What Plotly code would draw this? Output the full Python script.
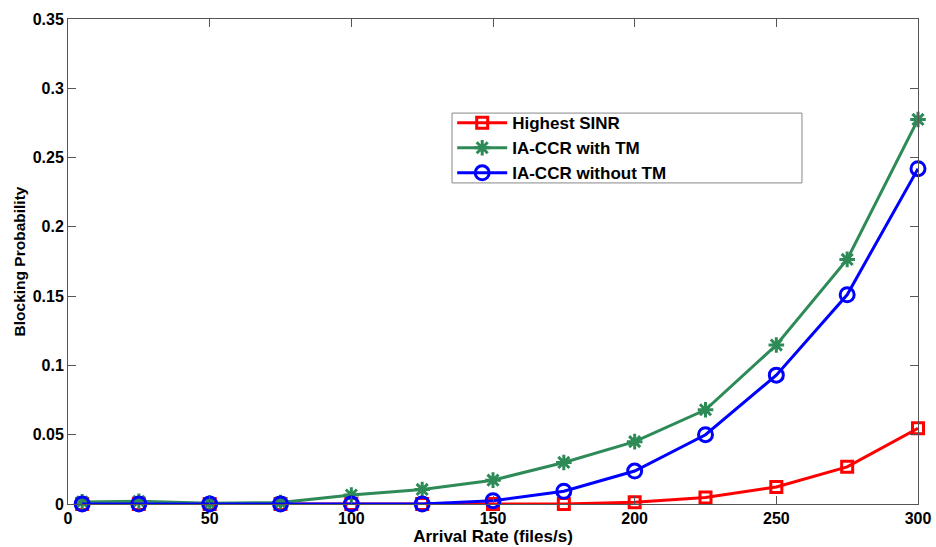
import plotly.graph_objects as go

arrival_rate = [5, 25, 50, 75, 100, 125, 150, 175, 200, 225, 250, 275, 300]
highest_sinr = [0, 0, 0, 0, 0, 0, 0, 0, 0.0013, 0.0047, 0.0123, 0.0268, 0.0546]
ia_ccr_with_tm = [0.0015, 0.002, 0.0006, 0.001, 0.0065, 0.0105, 0.0172, 0.0300, 0.0450, 0.0680, 0.1147, 0.1765, 0.2775]
ia_ccr_without_tm = [0, 0, 0, 0, 0, 0, 0.0024, 0.0092, 0.0238, 0.0500, 0.0930, 0.1510, 0.2420]

x_ticks = [0, 50, 100, 150, 200, 250, 300]
y_ticks = [0, 0.05, 0.1, 0.15, 0.2, 0.25, 0.3, 0.35]
y_tick_labels = ["0", "0.05", "0.1", "0.15", "0.2", "0.25", "0.3", "0.35"]

FONT = "Liberation Sans, Arial, sans-serif"

fig = go.Figure()
fig.add_trace(go.Scatter(
    x=arrival_rate, y=highest_sinr, name="Highest SINR", mode="lines+markers",
    line=dict(color="#FF0000", width=3),
    marker=dict(symbol="square-open", size=11, color="#FF0000", line=dict(width=3, color="#FF0000")),
    cliponaxis=False,
))
fig.add_trace(go.Scatter(
    x=arrival_rate, y=ia_ccr_with_tm, name="IA-CCR with TM", mode="lines+markers",
    line=dict(color="#2E8B57", width=3),
    marker=dict(symbol="asterisk-open", size=13, color="#2E8B57", line=dict(width=3, color="#2E8B57")),
    cliponaxis=False,
))
fig.add_trace(go.Scatter(
    x=arrival_rate, y=ia_ccr_without_tm, name="IA-CCR without TM", mode="lines+markers",
    line=dict(color="#0000FF", width=3),
    marker=dict(symbol="circle-open", size=14, color="#0000FF", line=dict(width=3, color="#0000FF")),
    cliponaxis=False,
))

axis_common = dict(
    showline=True, linecolor="#555555", linewidth=1, mirror="ticks",
    ticks="inside", ticklen=8, tickcolor="#555555", tickwidth=1,
    showgrid=False, zeroline=False, automargin=False,
    tickfont=dict(family=FONT, size=16, color="#000000", weight="bold"),
)

fig.update_layout(
    width=936, height=547,
    margin=dict(l=68, r=18, t=19, b=43, autoexpand=False),
    paper_bgcolor="white", plot_bgcolor="white",
    font=dict(family=FONT, size=16, color="#000000"),
    xaxis=dict(
        range=[0, 300], tickvals=x_ticks,
        title=dict(text="<b>Arrival Rate (files/s)</b>", font=dict(family=FONT, size=17), standoff=2),
        **axis_common,
    ),
    yaxis=dict(
        range=[0, 0.35], tickvals=y_ticks, ticktext=y_tick_labels,
        title=dict(text="<b>Blocking Probability</b>", font=dict(family=FONT, size=15.5), standoff=3),
        **axis_common,
    ),
    legend=dict(
        x=0.452, y=0.8225, xanchor="left", yanchor="top",
        bgcolor="rgba(0,0,0,0)", borderwidth=0,
        font=dict(family=FONT, size=17, weight="bold"),
        itemwidth=50, tracegroupgap=0,
    ),
    shapes=[dict(
        type="rect", xref="paper", yref="paper",
        x0=0.4518, x1=0.8635, y0=0.662, y1=0.806,
        line=dict(color="#888888", width=1), fillcolor="white", layer="below",
    )],
    showlegend=True,
)

fig.write_html(
    "out.html",
    config={"displayModeBar": False},
    post_script="document.body.style.margin='0';document.documentElement.style.overflow='hidden';",
)
